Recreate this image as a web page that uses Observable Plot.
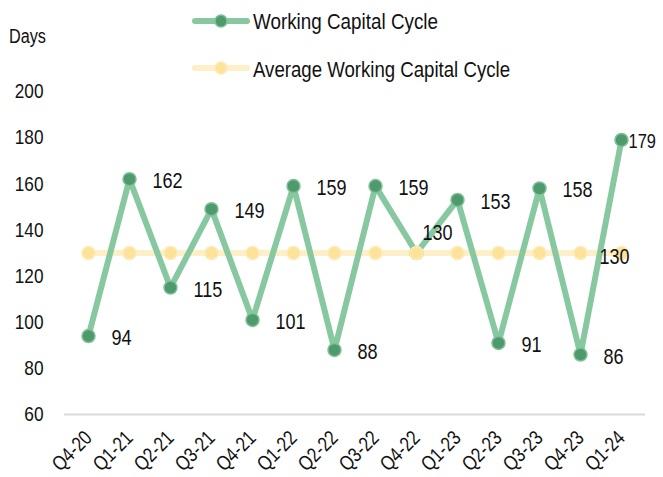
<!DOCTYPE html>
<html>
<head>
<meta charset="utf-8">
<script src="https://cdn.jsdelivr.net/npm/d3@7"></script>
<script src="https://cdn.jsdelivr.net/npm/@observablehq/plot@0.6"></script>
<style>
  html, body { margin: 0; padding: 0; background: #fff; }
  #wrap { position: relative; width: 663px; height: 477px; font-family: "Liberation Sans", Arial, sans-serif; color: #111; }
  #chart { position: absolute; left: 0; top: 0; }
  #legend { position: absolute; left: 0; top: 0; }
</style>
</head>
<body>
<div id="wrap">
  <div id="chart"></div>
  <svg id="legend" width="663" height="90" font-family="Liberation Sans, Arial, sans-serif" fill="#111">
    <text x="9" y="42.5" font-size="20" textLength="37" lengthAdjust="spacingAndGlyphs">Days</text>
    <line x1="195" y1="21" x2="247" y2="21" stroke="#88c8a0" stroke-width="6" stroke-linecap="round"/>
    <circle cx="221" cy="21" r="6" fill="#4e9a6c" stroke="#7fc097" stroke-width="1.5"/>
    <text x="253" y="28.5" font-size="22" textLength="185" lengthAdjust="spacingAndGlyphs">Working Capital Cycle</text>
    <line x1="195" y1="68" x2="247" y2="68" stroke="#fdefc8" stroke-width="6" stroke-linecap="round"/>
    <circle cx="221" cy="68" r="6" fill="#fde39a" stroke="#fdebb8" stroke-width="1.5"/>
    <text x="253" y="76.5" font-size="22" textLength="257" lengthAdjust="spacingAndGlyphs">Average Working Capital Cycle</text>
  </svg>
</div>
<script>
const quarters = ["Q4-20","Q1-21","Q2-21","Q3-21","Q4-21","Q1-22","Q2-22","Q3-22","Q4-22","Q1-23","Q2-23","Q3-23","Q4-23","Q1-24"];
const wcc = [94,162,115,149,101,159,88,159,130,153,91,158,86,179];
const avgWcc = [130,130,130,130,130,130,130,130,130,130,130,130,130,130];
const yTicks = [60,80,100,120,140,160,180,200];

const data = quarters.map((q, i) => ({q, v: wcc[i], a: avgWcc[i], i}));
const last = data.length - 1;
const avgIdx = 8;

const font = "\"Liberation Sans\", Arial, sans-serif";

const plot = Plot.plot({
  width: 663,
  height: 477,
  marginTop: 91,
  marginBottom: 63,
  marginLeft: 64,
  marginRight: 18,
  style: {fontFamily: font, fontSize: "21px", color: "#111", background: "transparent"},
  x: {type: "point", domain: quarters, padding: 0.5, label: null},
  y: {domain: [60, 200], label: null},
  marks: [
    Plot.ruleY([60], {stroke: "#d9d9d9", strokeWidth: 2}),
    Plot.axisY({ticks: yTicks, tickSize: 0, tickPadding: 21, label: null, fontSize: 21}),
    Plot.axisX({tickSize: 0, tickRotate: -45, tickPadding: 20, label: null, fontSize: 20.5}),
    Plot.line(data, {x: "q", y: "a", stroke: "#fdefc8", strokeWidth: 6}),
    Plot.line(data, {x: "q", y: "v", stroke: "#88c8a0", strokeWidth: 6}),
    Plot.dot(data, {x: "q", y: "v", r: 6.5, fill: "#4e9a6c", stroke: "#7fc097", strokeWidth: 1.5}),
    Plot.dot(data, {x: "q", y: "a", r: 6.5, fill: "#fde39a", stroke: "#fdebb8", strokeWidth: 1.5}),
    Plot.text(data.filter(d => d.i !== last && d.i !== avgIdx), {x: "q", y: "v", text: d => String(d.v), textAnchor: "start", dx: 23, dy: 2, fontSize: 22, fill: "#111"}),
    Plot.text(data.filter(d => d.i === avgIdx), {x: "q", y: "v", text: d => String(d.v), textAnchor: "start", dx: 6, dy: -20, fontSize: 22, fill: "#111"}),
    Plot.text(data.filter(d => d.i === last), {x: "q", y: "v", text: d => String(d.v), textAnchor: "start", dx: 7, dy: 2, fontSize: 20, fill: "#111"}),
    Plot.text(data.filter(d => d.i === last), {x: "q", y: "a", text: d => String(d.a), textAnchor: "middle", dx: -7, dy: 4, fontSize: 22, fill: "#111"})
  ]
});
document.getElementById("chart").appendChild(plot);
// narrow the glyphs to match the condensed face of the original
plot.querySelectorAll("text").forEach(t => {
  const w = t.getComputedTextLength();
  if (w > 0) {
    t.setAttribute("textLength", (w * 0.82).toFixed(1));
    t.setAttribute("lengthAdjust", "spacingAndGlyphs");
  }
});
</script>
</body>
</html>
